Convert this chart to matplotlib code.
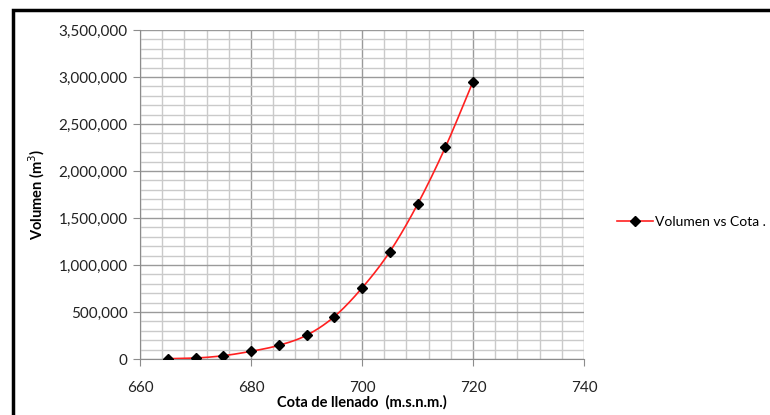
import numpy as np
import matplotlib
matplotlib.use("Agg")
import matplotlib.pyplot as plt
from matplotlib.ticker import MultipleLocator, FuncFormatter
from matplotlib.lines import Line2D
from matplotlib.patches import Rectangle

cota = [665, 670, 675, 680, 685, 690, 695, 700, 705, 710, 715, 720]
volumen = [3000, 10000, 35000, 82000, 145000, 252000, 450000, 755000,
           1140000, 1645000, 2250000, 2950000]

plt.rcParams['font.family'] = ['Lato', 'DejaVu Sans']

def smooth(x, y, n=20):
    # Catmull-Rom rendering of the series line (Excel "smoothed line")
    x = np.asarray(x, float); y = np.asarray(y, float)
    px = np.concatenate([[2*x[0]-x[1]], x, [2*x[-1]-x[-2]]])
    py = np.concatenate([[2*y[0]-y[1]], y, [2*y[-1]-y[-2]]])
    xs, ys = [], []
    t = np.linspace(0, 1, n, endpoint=False)
    for i in range(1, len(px)-2):
        p0, p1, p2, p3 = [np.array([px[j], py[j]]) for j in range(i-1, i+3)]
        for tt in t:
            pt = 0.5*((2*p1) + (-p0+p2)*tt + (2*p0-5*p1+4*p2-p3)*tt**2 + (-p0+3*p1-3*p2+p3)*tt**3)
            xs.append(pt[0]); ys.append(pt[1])
    xs.append(x[-1]); ys.append(y[-1])
    return np.array(xs), np.array(ys)

fig = plt.figure(figsize=(7.7, 4.15), dpi=100)
ax = fig.add_axes([140/770, 1-359/415, (584-140)/770, (359-30)/415])

ax.set_xlim(660, 740)
ax.set_ylim(0, 3500000)
ax.xaxis.set_major_locator(MultipleLocator(20))
ax.xaxis.set_minor_locator(MultipleLocator(4))
ax.yaxis.set_major_locator(MultipleLocator(500000))
ax.yaxis.set_minor_locator(MultipleLocator(100000))
ax.yaxis.set_major_formatter(FuncFormatter(lambda v, p: f"{int(v):,}"))

ax.grid(which='minor', color='#cacaca', linewidth=1.0)
ax.grid(which='major', color='#9a9a9a', linewidth=1.0)
ax.set_axisbelow(True)

for s in ['top', 'right']:
    ax.spines[s].set_visible(False)
for s in ['left', 'bottom']:
    ax.spines[s].set_color('#8c8c8c')
ax.tick_params(which='major', direction='out', length=5, color='#8c8c8c',
               labelsize=11, labelcolor='#222222', pad=4)
ax.tick_params(which='minor', length=0)
ax.tick_params(axis='x', pad=11)

sx, sy = smooth(cota, volumen)
ax.plot(sx, sy, color='#ff2020', linewidth=1.2, zorder=3)
ax.plot(cota, volumen, linestyle='none', marker='D', markersize=5.5,
        color='black', zorder=4)

ax.set_xlabel('Cota de llenado  (m.s.n.m.)', fontsize=10.5, fontweight='bold', labelpad=0)
ax.set_ylabel('Volumen (m$^3$)', fontsize=10.5, fontweight='bold', labelpad=8)

handle = Line2D([], [], color='#ff2020', linewidth=1.2, marker='D',
                markersize=5, markerfacecolor='black', markeredgecolor='black')
fig.legend([handle], ['Volumen vs Cota .'], loc='center left',
           bbox_to_anchor=(610/770, 1-222/415), frameon=False, fontsize=10,
           handlelength=2.6, handletextpad=0.15, borderpad=0)

fig.patches.append(Rectangle((13/770, -0.2), 1.0, 1.2 - 10/415,
                             transform=fig.transFigure, fill=False,
                             edgecolor='black', linewidth=2.5))

fig.savefig('out.png', dpi=100)
